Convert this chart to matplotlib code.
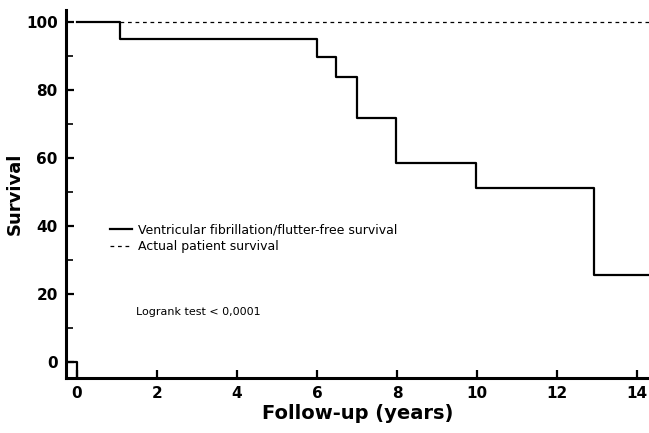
import matplotlib.pyplot as plt

# Kaplan-Meier step data (years, survival %)
vf_times = [0, 1.07, 6.0, 6.48, 7.0, 7.98, 9.97, 12.93, 14.4]
vf_surv = [100, 95, 89.6, 83.7, 71.6, 58.6, 51.1, 25.5, 25.5]
actual_times = [1.07, 14.4]
actual_surv = [100, 100]

x_ticks = [0, 2, 4, 6, 8, 10, 12, 14]
y_ticks = [0, 20, 40, 60, 80, 100]

fig = plt.figure(figsize=(6.49, 4.33), dpi=100)
ax = fig.add_axes([0.102, 0.127, 0.898, 0.85])

ax.step(vf_times, vf_surv, where='post', color='black', linewidth=1.6,
        label='Ventricular fibrillation/flutter-free survival')
ax.plot(actual_times, actual_surv, color='black', linewidth=0.9,
        linestyle=(0, (3, 3)), label='Actual patient survival')
# small mark near the origin
ax.plot([-0.3, 0.0, 0.0], [0, 0, -4.7], color='black', linewidth=1.6)

ax.set_xlim(-0.27, 14.3)
ax.set_ylim(-4.7, 103.5)
ax.set_xticks(x_ticks)
ax.set_yticks(y_ticks)
ax.set_yticks(range(0, 101, 10), minor=True)
ax.tick_params(axis='both', direction='in', length=6, width=1.6,
               labelsize=11, pad=6)
ax.tick_params(axis='y', which='minor', direction='in', length=5, width=1.2)
for lbl in ax.get_xticklabels() + ax.get_yticklabels():
    lbl.set_fontweight('bold')

for side in ['top', 'right']:
    ax.spines[side].set_visible(False)
for side in ['left', 'bottom']:
    ax.spines[side].set_linewidth(2.2)

ax.set_xlabel('Follow-up (years)', fontsize=14, fontweight='bold', labelpad=2)
ax.set_ylabel('Survival', fontsize=13, fontweight='bold', labelpad=2)

ax.legend(loc='upper left', bbox_to_anchor=(0.055, 0.45), frameon=False,
          fontsize=9, handlelength=1.8, handletextpad=0.5, labelspacing=0.3)

ax.text(0.12, 0.18, 'Logrank test < 0,0001', transform=ax.transAxes,
        fontsize=8, ha='left', va='center')

plt.savefig('out.png', dpi=100)
